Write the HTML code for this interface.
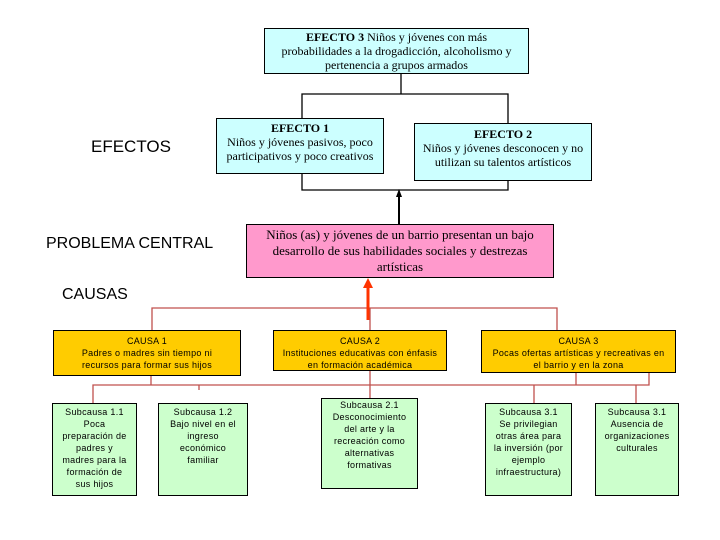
<!DOCTYPE html>
<html><head><meta charset="utf-8"><style>
body{margin:0;width:720px;height:540px;background:#fff;position:relative;overflow:hidden}
.b{position:absolute;box-sizing:border-box;border:1px solid #000;text-align:center}
.s{font-family:"Liberation Serif",serif;font-size:12px;line-height:14px;background:#ccffff}
.c{font-family:"Liberation Sans",sans-serif;font-size:9px;line-height:12px;background:#ffcc00;padding-top:4px;letter-spacing:0.3px}
.g{font-family:"Liberation Sans",sans-serif;font-size:9px;line-height:12px;background:#ccffcc;padding-top:2px;letter-spacing:0.3px}
.l{position:absolute;font-family:"Liberation Sans",sans-serif;font-size:16px}
.h{position:absolute}
</style></head><body>
<svg class="h" width="720" height="540" style="left:0;top:0">
<g stroke="#000" stroke-width="1.3" fill="none">
<path d="M401 73V94M302 118V94H508V123M302 174V190H508V180"/>
<path d="M399 224V196" stroke-width="2"/>
</g>
<path d="M399 189l-3 8h6z" fill="#000"/>
<g stroke="#c0504d" stroke-width="1.3" fill="none">
<path d="M152 330V308H557V330M370 308V330"/>
<path d="M151 376V385H93V403M199 385V390M93 385H649V372M576 372V385M370 370V398M534 385V403M636 385V403"/>
</g>
<path d="M368 320V287" stroke="#ff3300" stroke-width="3"/>
<path d="M368 278l-5 10h10z" fill="#ff3300"/>
</svg>
<div class="b s" style="left:264px;top:28px;width:265px;height:46px;padding:1px 14px 0">
<b>EFECTO 3</b> Niños y jóvenes con más probabilidades a la drogadicción, alcoholismo y pertenencia a grupos armados</div>
<div class="b s" style="left:216px;top:118px;width:168px;height:56px;padding:2px 4px 0"><b>EFECTO 1</b><br>Niños y jóvenes pasivos, poco participativos y poco creativos</div>
<div class="b s" style="left:414px;top:123px;width:178px;height:58px;padding-top:3px"><b>EFECTO 2</b><br>Niños y jóvenes desconocen y no utilizan su talentos artísticos</div>
<div class="b s" style="left:246px;top:224px;width:308px;height:54px;background:#ff99cc;font-size:13px;line-height:16px;padding:2px 8px 0">Niños (as) y jóvenes de un barrio presentan un bajo desarrollo de sus habilidades sociales y destrezas artísticas</div>
<div class="l" style="left:91px;top:137px;font-size:17px">EFECTOS</div>
<div class="l" style="left:46px;top:235px">PROBLEMA CENTRAL</div>
<div class="l" style="left:62px;top:286px">CAUSAS</div>
<div class="b c" style="left:53px;top:330px;width:188px;height:46px;padding:4px 22px 0">CAUSA 1<br>Padres o madres sin tiempo ni recursos para formar sus hijos</div>
<div class="b c" style="left:273px;top:330px;width:174px;height:41px;padding:4px 3px 0">CAUSA 2<br>Instituciones educativas con énfasis en formación académica</div>
<div class="b c" style="left:481px;top:330px;width:195px;height:43px;padding:4px 8px 0">CAUSA 3<br>Pocas ofertas artísticas y recreativas en el barrio y en la zona</div>
<div class="b g" style="left:52px;top:403px;width:85px;height:93px;padding:2px 6px 0">Subcausa 1.1<br>Poca preparación de padres y madres para la formación de sus hijos</div>
<div class="b g" style="left:158px;top:403px;width:90px;height:93px;padding:2px 6px 0">Subcausa 1.2<br>Bajo nivel en el ingreso económico familiar</div>
<div class="b g" style="left:321px;top:398px;width:97px;height:91px;padding:0 6px">Subcausa 2.1<br>Desconocimiento del arte y la recreación como alternativas formativas</div>
<div class="b g" style="left:485px;top:403px;width:87px;height:93px;padding:2px 6px 0">Subcausa 3.1<br>Se privilegian otras área para la inversión (por ejemplo infraestructura)</div>
<div class="b g" style="left:595px;top:403px;width:84px;height:93px">Subcausa 3.1<br>Ausencia de organizaciones culturales</div>
</body></html>
